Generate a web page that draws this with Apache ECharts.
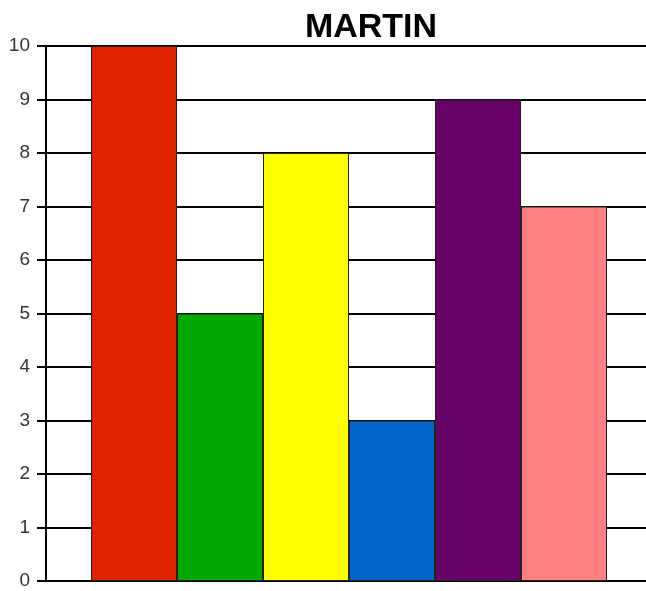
<!DOCTYPE html>
<html>
<head>
<meta charset="utf-8">
<script src="https://cdn.jsdelivr.net/npm/echarts@6/dist/echarts.min.js"></script>
<style>html,body{margin:0;padding:0;background:#fff}#c{width:646px;height:591px}</style>
</head>
<body>
<div id="c"></div>
<script>
const titleText = 'MARTIN';
const seriesNames = ['A', 'B', 'C', 'D', 'E', 'F'];
const seriesValues = [10, 5, 8, 3, 9, 7];
const seriesColors = ['#DD2200', '#00A800', '#FFFF00', '#0066CC', '#660066', '#FF8080'];
const yTicks = [0, 1, 2, 3, 4, 5, 6, 7, 8, 9, 10];
const yMin = yTicks[0], yMax = yTicks[yTicks.length - 1];

const chart = echarts.init(document.getElementById('c'), null, {renderer: 'canvas'});
chart.setOption({
  animation: false,
  backgroundColor: '#ffffff',
  title: {
    text: titleText,
    left: 366, top: 6, textAlign: 'center',
    textStyle: {fontFamily: 'Liberation Sans', fontWeight: 'bold', fontSize: 34, color: '#000'}
  },
  grid: [
    {left: 46, right: 0, top: 46, bottom: 10, containLabel: false},
    {left: 52, right: 0, top: 46, bottom: 10, containLabel: false}
  ],
  xAxis: [
    {gridIndex: 0, type: 'category', data: [''], show: false},
    {gridIndex: 1, type: 'category', data: [''], show: false}
  ],
  yAxis: [
    {
      gridIndex: 0, type: 'value', min: yMin, max: yMax, interval: 1,
      axisLine: {show: true, onZero: false, lineStyle: {color: '#000', width: 2}},
      axisTick: {show: true, inside: false, length: 9, lineStyle: {color: '#000', width: 2}},
      axisLabel: {fontFamily: 'Liberation Sans', fontSize: 19, color: '#333', margin: 16},
      splitLine: {show: true, lineStyle: {color: '#000', width: 2}}
    },
    {gridIndex: 1, type: 'value', min: yMin, max: yMax, interval: 1, show: false, splitLine: {show: false}}
  ],
  series: seriesNames.map((n, i) => ({
    name: n, type: 'bar', data: [seriesValues[i]],
    xAxisIndex: 1, yAxisIndex: 1,
    barWidth: 86, barGap: '0%',
    itemStyle: {color: seriesColors[i], borderColor: '#222', borderWidth: 1}
  }))
});
</script>
</body>
</html>
